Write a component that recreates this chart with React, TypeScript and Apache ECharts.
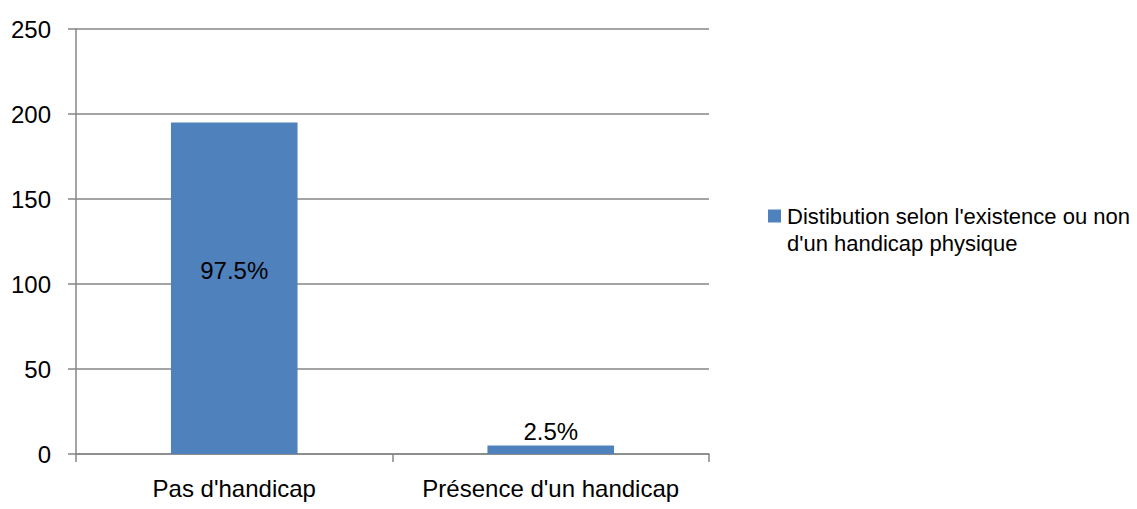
import React, { useEffect, useRef } from "react";
import * as echarts from "echarts";

const categories = ["Pas d'handicap", "Présence d'un handicap"];
const values = [195, 5];
const percentLabels = ["97.5%", "2.5%"];
const seriesNameLines = ["Distibution selon l'existence ou non", "d'un handicap physique"];
const seriesName = seriesNameLines.join(" ");

export default function App() {
  const ref = useRef<HTMLDivElement>(null);
  useEffect(() => {
    if (!ref.current) return;
    const chart = echarts.init(ref.current, null, { renderer: "svg" });
    const font = "'Liberation Sans', Arial, sans-serif";
    chart.setOption({
      animation: false,
      grid: { left: 76, right: 428, top: 29, bottom: 55, containLabel: false },
      legend: {
        orient: "vertical",
        left: 763,
        top: 198,
        itemWidth: 13,
        itemHeight: 13,
        itemGap: 4,
        icon: "rect",
        formatter: () => seriesNameLines[0],
        textStyle: { fontFamily: font, fontSize: 22, color: "#000", lineHeight: 26, padding: [0, 0, 0, 1] },
        data: [seriesName],
      },
      graphic: [
        {
          type: "text",
          left: 787,
          top: 232,
          style: { text: seriesNameLines[1], fontFamily: font, fontSize: 22, fill: "#000" },
        },
      ],
      xAxis: {
        type: "category",
        data: categories,
        axisLine: { lineStyle: { color: "#868686", width: 1.5 } },
        axisTick: { show: true, length: 8, interval: 0, lineStyle: { color: "#868686", width: 1.5 } },
        axisLabel: { fontFamily: font, fontSize: 24, color: "#000", margin: 22, interval: 0, hideOverlap: false },
      },
      yAxis: {
        type: "value",
        min: 0,
        max: 250,
        interval: 50,
        axisLine: { show: true, lineStyle: { color: "#868686", width: 1.5 } },
        axisTick: { show: true, length: 8, lineStyle: { color: "#868686", width: 1.5 } },
        splitLine: { lineStyle: { color: "#868686", width: 1.5 } },
        axisLabel: { fontFamily: font, fontSize: 24, color: "#000", margin: 25 },
      },
      series: [
        {
          name: seriesName,
          type: "bar",
          barWidth: "40%",
          itemStyle: { color: "#4F81BD" },
          data: values.map((v, i) => ({
            value: v,
            label:
              i === 0
                ? { show: true, position: "inside", offset: [0, -18], formatter: percentLabels[i] }
                : { show: true, position: "top", distance: 2, formatter: percentLabels[i] },
          })),
          label: { fontFamily: font, fontSize: 24, color: "#000" },
        },
      ],
    });
    return () => chart.dispose();
  }, []);
  return <div ref={ref} style={{ width: 1137, height: 509, position: "absolute", left: 0, top: 0 }} />;
}
